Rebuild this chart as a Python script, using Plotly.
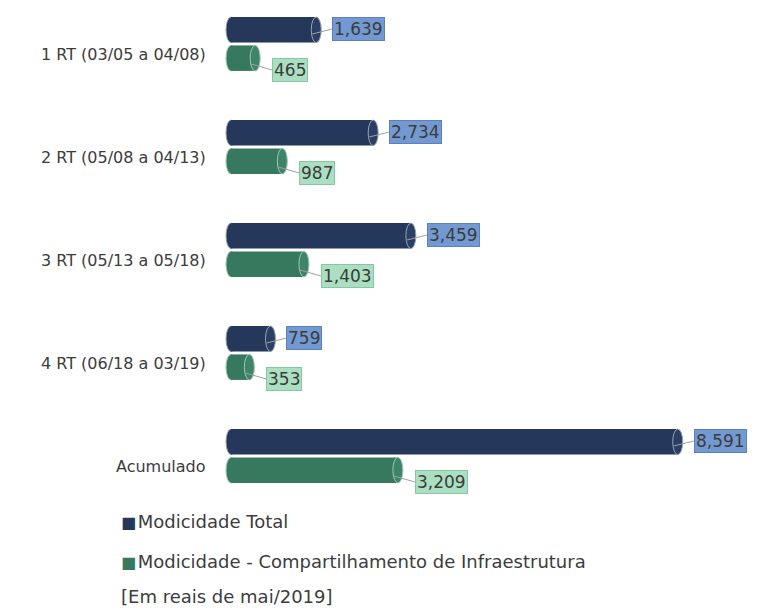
import plotly.graph_objects as go

categories = ["1 RT (03/05 a 04/08)", "2 RT (05/08 a 04/13)", "3 RT (05/13 a 05/18)",
              "4 RT (06/18 a 03/19)", "Acumulado"]
total = [1639, 2734, 3459, 759, 8591]
infra = [465, 987, 1403, 353, 3209]
series_names = ["Modicidade Total", "Modicidade - Compartilhamento de Infraestrutura"]
note = "[Em reais de mai/2019]"

OFF = 8  # browser body margin
W, H = 757 - OFF, 608 - OFF
ZERO = 231 - OFF         # x pixel of value 0 (figure coords)
PAD = 10                 # room left of zero for the cylinder cap
L, T, B = ZERO - PAD, 0, 98
PW = W - L - 7
R = W - L - PW
PH = H - T - B
SCALE = 0.052  # px per unit

NAVY = "#25375a"
NAVY_FACE = "#2b3f64"
GREEN = "#37795e"
GREEN_FACE = "#3d8468"
BLUE_BOX = "#7399d3"
GREEN_BOX = "#aadfc2"
TXT = "#3c3c3c"
FONT = "DejaVu Sans"

band = 103
gap = 0.45
slot = (1 - gap) / 2
bgg = 0.1
bw = slot * (1 - bgg)

def px2paper(px, py):
    # page pixel -> paper coords
    return (px - OFF - L) / PW, (T + PH - (py - OFF)) / PH

ypos = list(range(len(categories)))

fig = go.Figure()
fig.add_trace(go.Bar(y=ypos, x=total, orientation="h", name=series_names[0],
                     marker=dict(color=NAVY, line=dict(width=0)), showlegend=False))
fig.add_trace(go.Bar(y=ypos, x=infra, orientation="h", name=series_names[1],
                     marker=dict(color=GREEN, line=dict(width=0)), showlegend=False))

shapes = []
dx = 5 / SCALE
for vals, sign, body, face, rim in [(total, -1, NAVY, NAVY_FACE, "#98a2b5"),
                                    (infra, 1, GREEN, GREEN_FACE, "#9cc7b3")]:
    for i, v in zip(ypos, vals):
        c = i + sign * slot / 2
        y0, y1 = c - bw / 2, c + bw / 2
        shapes.append(dict(type="circle", xref="x", yref="y", x0=-dx, x1=dx, y0=y0, y1=y1,
                           fillcolor=body, line=dict(color=rim, width=1), layer="below"))
        shapes.append(dict(type="circle", xref="x", yref="y", x0=v - dx, x1=v + dx, y0=y0, y1=y1,
                           fillcolor=face, line=dict(color=rim, width=1), layer="above"))

ann = []
for i, v in zip(ypos, total):
    ann.append(dict(x=v, y=i, xref="x", yref="y", yshift=10, xshift=-4,
                    text=f"{v:,}", showarrow=True, arrowhead=0, arrowwidth=1, arrowcolor="#a0a0a0",
                    ax=20, ay=-5, xanchor="left", yanchor="middle", bgcolor=BLUE_BOX, borderpad=1,
                    bordercolor="#5a80bd", borderwidth=1,
                    font=dict(family=FONT, size=17, color=TXT)))
for i, v in zip(ypos, infra):
    ann.append(dict(x=v, y=i, xref="x", yref="y", yshift=-20, xshift=-4,
                    text=f"{v:,}", showarrow=True, arrowhead=0, arrowwidth=1, arrowcolor="#a0a0a0",
                    ax=21, ay=6, xanchor="left", yanchor="middle", bgcolor=GREEN_BOX, borderpad=1,
                    bordercolor="#86c6a3", borderwidth=1,
                    font=dict(family=FONT, size=17, color=TXT)))
for i, c in zip(ypos, categories):
    ann.append(dict(x=0, y=i, xref="x", yref="y", yshift=-10, xshift=-23,
                    text=c, showarrow=False, xanchor="right", yanchor="middle",
                    font=dict(family=FONT, size=16, color=TXT)))

for (py, txt, col) in [(521, series_names[0], NAVY), (561, series_names[1], GREEN)]:
    xp, yp = px2paper(119, py)
    ann.append(dict(x=xp, y=yp, xref="paper", yref="paper", showarrow=False,
                    xanchor="left", yanchor="middle",
                    text=f"<span style='color:{col};font-size:16px'>■</span>"
                         f"<span style='font-size:5px'> </span>{txt}",
                    font=dict(family=FONT, size=18, color=TXT)))
xp, yp = px2paper(119, 596)
ann.append(dict(x=xp, y=yp, xref="paper", yref="paper", showarrow=False,
                xanchor="left", yanchor="middle",
                text=note, font=dict(family=FONT, size=18, color=TXT)))

top = -(44 - OFF) / band
fig.update_layout(
    width=W, height=H, margin=dict(l=L, r=R, t=T, b=B),
    paper_bgcolor="white", plot_bgcolor="white",
    barmode="group", bargap=gap, bargroupgap=bgg,
    xaxis=dict(range=[-PAD / SCALE, (PW - PAD) / SCALE], visible=False),
    yaxis=dict(range=[top + PH / band, top], visible=False),
    shapes=shapes,
    annotations=ann,
)
fig.write_html("out.html")
